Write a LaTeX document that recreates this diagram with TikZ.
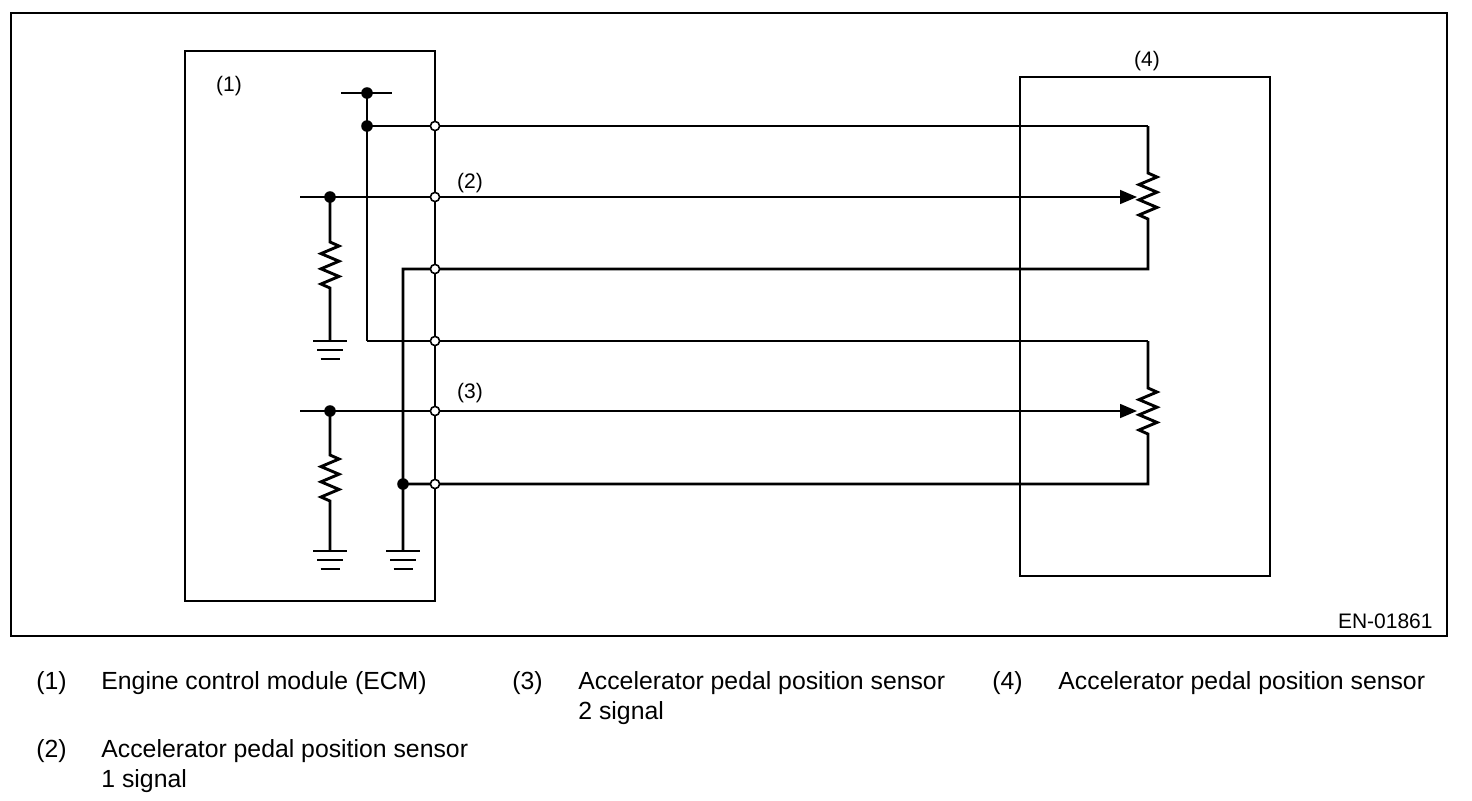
\documentclass[tikz,border=0pt]{standalone}
\usepackage{fontspec}
\setmainfont{Liberation Sans}
\usetikzlibrary{arrows.meta}
\newcommand\zz{-- ++(9,4) -- ++(-18,7.6) -- ++(18,7.6) -- ++(-18,7.6) -- ++(18,7.6) -- ++(-18,7.6) -- ++(9,4)}
\tikzset{
  gnd/.pic={\draw[line width=1.3pt] (-17,0) -- (17,0) (-13,9) -- (13,9) (-9.5,18) -- (9.5,18);}
}
\begin{document}
\begin{tikzpicture}[x=0.5pt,y=-0.5pt,
  wire/.style={line width=0.8pt},
  bus/.style={line width=1.45pt},
  box/.style={line width=1.1pt},
  term/.style={circle,draw,fill=white,line width=0.8pt,inner sep=0pt,minimum size=4.6pt},
  jdot/.style={circle,fill=black,inner sep=0pt,minimum size=5.8pt},
  lbl/.style={font=\fontsize{10.5}{12}\selectfont,inner sep=0pt},
  leg/.style={font=\fontsize{12.4}{15}\selectfont,inner sep=0pt,anchor=base west,align=left},
  sig/.style={wire,-{Triangle[length=8.5pt,width=7pt]}}]
\useasboundingbox (0,0) rectangle (1472,800);
\draw[box] (11,13) rectangle (1447,636);
% boxes
\draw[box] (185,51) rectangle (435,601);
\draw[box] (1020,77) rectangle (1270,576);
\node[lbl] (n1) at (229,86) {(1)};
\node[lbl] (n4) at (1147,61) {(4)};
\node[lbl] (n2) at (470,183) {(2)};
\node[lbl] (n3) at (470,393) {(3)};
\node[lbl,anchor=east] (code) at (1433,621) {EN-01861};
% points
\foreach \n/\y in {1/126,2/197,3/269,4/341,5/411,6/484}
  \coordinate (t\n) at (435,\y);
\coordinate (vcc) at (367,93);
\coordinate (j1) at (367,126);
\coordinate (j4) at (367,341);
\coordinate (j2) at (330,197);
\coordinate (j5) at (330,411);
\coordinate (j6) at (403,484);
% power
\draw[bus] (341,93) -- (392,93);
\draw[bus] (vcc) -- (j4);
% sensor 1
\draw[wire] (j1) -- (t1) -- (1148,126);
\draw[bus] (1148,126) -- (1148,173) \zz -- (1148,269) -- (t3) -- (403,269) -- (403,551);
\draw[sig] (300,197) -- (1137,197);
\draw[bus] (j2) -- (330,242) \zz -- (330,341);
\pic at (330,341) {gnd};
% sensor 2
\draw[wire] (j4) -- (t4) -- (1148,341);
\draw[bus] (1148,341) -- (1148,388) \zz -- (1148,484) -- (t6) -- (j6);
\draw[sig] (300,411) -- (1137,411);
\draw[bus] (j5) -- (330,455) \zz -- (330,551);
\pic at (330,551) {gnd};
\pic at (403,551) {gnd};
% joints
\foreach \p in {vcc,j1,j2,j5,j6}
  \node[jdot] at (\p) {};
\foreach \n in {1,...,6}
  \node[term] at (t\n) {};
% legend
\node[leg] (l1) at (36,689) {(1)};
\node[leg] (t1a) at (101,689) {Engine control module (ECM)};
\node[leg] (l3) at (512,689) {(3)};
\node[leg] (t3a) at (578,719) {Accelerator pedal position sensor\\2 signal};
\node[leg] (l4) at (992,689) {(4)};
\node[leg] (t4a) at (1058,689) {Accelerator pedal position sensor};
\node[leg] (l2) at (36,757) {(2)};
\node[leg] (t2a) at (101,787) {Accelerator pedal position sensor\\1 signal};
\end{tikzpicture}
\end{document}
